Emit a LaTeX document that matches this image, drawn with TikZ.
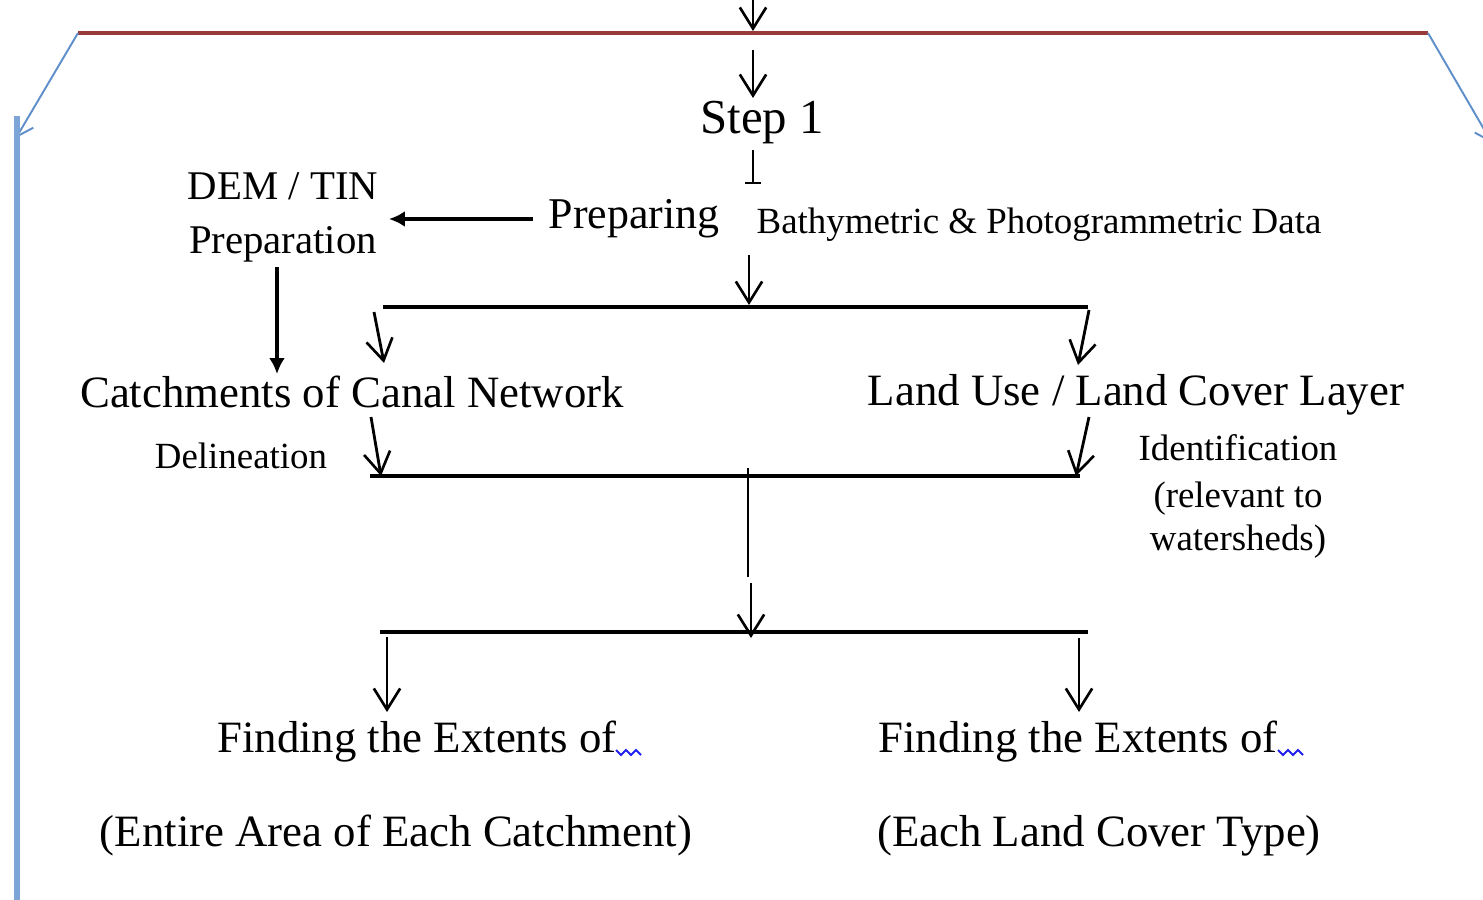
\documentclass[tikz,border=0pt]{standalone}
\usepackage{fontspec}
\setmainfont{Liberation Serif}
\usetikzlibrary{arrows.meta}
\definecolor{redline}{HTML}{993B3B}
\definecolor{blueline}{HTML}{5F8FCB}
\definecolor{bluelight}{HTML}{7EA5D8}
\definecolor{spell}{HTML}{2020F0}
\begin{document}
\begin{tikzpicture}[x=0.02cm,y=-0.02cm,
  txt/.style={inner sep=0pt, anchor=base, font=\fontsize{25.5}{30}\selectfont},
  smalltxt/.style={inner sep=0pt, anchor=base, font=\fontsize{21}{25}\selectfont},
  demtxt/.style={inner sep=0pt, anchor=base, font=\fontsize{23.2}{28}\selectfont},
  barb/.style={-{Straight Barb[length=12pt,width=15pt,line width=1.5pt]}, line width=1.6pt},
  bigarr/.style={-{Latex[length=9pt,width=9pt]}, line width=1.8pt},
  hline/.style={line width=2.4pt},
  thinline/.style={line width=1pt},
  bluearr/.style={blueline, line width=1.1pt, -{Straight Barb[length=9pt,width=11pt,line width=1.1pt]}},
  squig/.style={spell, line width=1.1pt},
]
\useasboundingbox (0,0) rectangle (1483,899);
\clip (0,0) rectangle (1483,899);

% texts
\node[txt, font=\fontsize{27.8}{32}\selectfont] (step) at (762,133) {Step 1};
\node[txt, font=\fontsize{25}{30}\selectfont] (prep) at (634,228) {Preparing};
\node[smalltxt] (bathy) at (1039,233) {Bathymetric \& Photogrammetric Data};
\node[demtxt] (dem) at (283,199) {DEM / TIN};
\node[demtxt] (demprep) at (283,253) {Preparation};
\node[txt] (catch) at (352,407) {Catchments of Canal Network};
\node[txt] (luse) at (1136,405) {Land Use / Land Cover Layer};
\node[smalltxt] (delin) at (241,468) {Delineation};
\node[smalltxt] (ident1) at (1238,460) {Identification};
\node[smalltxt] (ident2) at (1238,507) {(relevant to};
\node[smalltxt] (ident3) at (1238,550) {watersheds)};
\node[txt] (findL) at (417,752) {Finding the Extents of};
\node[txt] (findR) at (1078,752) {Finding the Extents of};
\node[txt] (entire) at (396,846) {(Entire Area of Each Catchment)};
\node[txt] (eachLC) at (1099,846) {(Each Land Cover Type)};

% coordinates
\coordinate (topin) at (753,-15);
\coordinate (toptip) at (753,31);
\coordinate (rl) at (78,33);
\coordinate (rr) at (1428,33);
\coordinate (ltip) at (16,138);
\coordinate (rtip) at (1492,143);
\coordinate (lvt) at (17,116);
\coordinate (lvb) at (17,910);
\coordinate (a1s) at (753,50);
\coordinate (a1e) at (753,98);
\coordinate (ts) at (753,150);
\coordinate (te) at (753,183);
\coordinate (tbl) at (745,183);
\coordinate (tbr) at (761,183);
\coordinate (pa) at (533,219);
\coordinate (pb) at (389,219);
\coordinate (da) at (277,267);
\coordinate (db) at (277,374);
\coordinate (ca) at (749,255);
\coordinate (cb) at (749,305);
\coordinate (h1l) at (383,307);
\coordinate (h1r) at (1088,307);
\coordinate (l1s) at (374,312);
\coordinate (l1e) at (384,363);
\coordinate (r1s) at (1089,310);
\coordinate (r1e) at (1078,365);
\coordinate (l2s) at (371,417);
\coordinate (l2e) at (381,476);
\coordinate (r2s) at (1089,417);
\coordinate (r2e) at (1076,476);
\coordinate (h2l) at (370,476);
\coordinate (h2r) at (1080,476);
\coordinate (ms) at (748,468);
\coordinate (me) at (748,577);
\coordinate (m2s) at (751,583);
\coordinate (m2e) at (751,638);
\coordinate (h3l) at (380,632);
\coordinate (h3r) at (1088,632);
\coordinate (l3s) at (387,637);
\coordinate (l3e) at (387,712);
\coordinate (r3s) at (1079,638);
\coordinate (r3e) at (1079,712);

% frame lines
\draw[redline, line width=1.8pt] (rl) -- (rr);
\draw[bluearr] (rl) -- (ltip);
\draw[bluearr] (rr) -- (rtip);
\draw[bluelight, line width=3pt] (lvt) -- (lvb);

% top arrows
\draw[barb] (topin) -- (toptip);
\draw[barb] (a1s) -- (a1e);
\draw[line width=1.3pt] (ts) -- (te);
\draw[line width=1.3pt] (tbl) -- (tbr);

% DEM arrows
\draw[bigarr] (pa) -- (pb);
\draw[bigarr] (da) -- (db);

% branching
\draw[barb] (ca) -- (cb);
\draw[hline] (h1l) -- (h1r);
\draw[barb] (l1s) -- (l1e);
\draw[barb] (r1s) -- (r1e);
\draw[barb] (l2s) -- (l2e);
\draw[barb] (r2s) -- (r2e);
\draw[hline] (h2l) -- (h2r);
\draw[thinline] (ms) -- (me);
\draw[barb] (m2s) -- (m2e);
\draw[hline] (h3l) -- (h3r);
\draw[barb] (l3s) -- (l3e);
\draw[barb] (r3s) -- (r3e);

% spell-check squiggles
\draw[squig] (616,750) -- (621,755) -- (626,750) -- (631,755) -- (636,750) -- (641,755);
\draw[squig] (1278,750) -- (1283,755) -- (1288,750) -- (1293,755) -- (1298,750) -- (1303,755);
\end{tikzpicture}
\end{document}
